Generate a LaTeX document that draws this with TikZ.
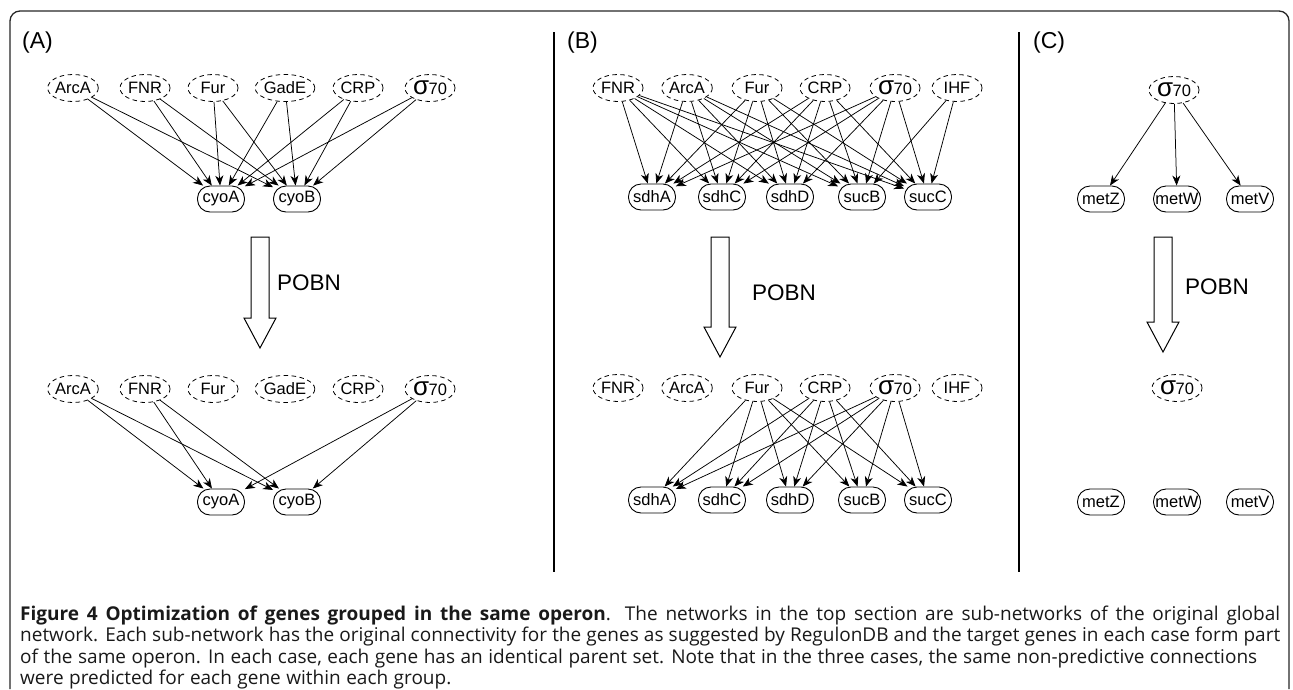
\documentclass[tikz,border=0pt]{standalone}
\usepackage{fontspec}
\setmainfont{Liberation Sans}
\newfontfamily\capfont{Open Sans}
\usetikzlibrary{shapes.geometric,arrows.meta}
\newcommand{\capsetup}{\capfont\fontsize{19}{21.5}\selectfont\spaceskip=5.5pt plus 30pt minus 1.5pt\relax}
\newcommand{\capbox}[2]{\hbox to #1{\capsetup #2}}
\newcommand{\capnat}[1]{\hbox{\capsetup #1}}
\tikzset{
  reg/.style={ellipse, draw, dashed, dash pattern=on 4.5pt off 3.5pt, line width=0.8pt, minimum width=50pt, minimum height=27pt, inner sep=0pt, font=\fontsize{16.5}{17}\selectfont},
  gene/.style={rectangle, rounded corners=12.5pt, draw, line width=0.9pt, minimum width=47pt, minimum height=26pt, inner sep=1.5pt, font=\fontsize{16.5}{17}\selectfont},
  edge/.style={-{Stealth[length=10pt,width=8pt,inset=3pt]}, line width=0.75pt},
  panellabel/.style={anchor=west, font=\fontsize{23}{25}\selectfont, inner sep=0pt},
  pobn/.style={anchor=west, font=\fontsize{22.5}{24}\selectfont, inner sep=0pt},
  divider/.style={line width=2pt},
  hollow/.style={draw, line width=1pt, fill=white},
  capline/.style={anchor=base west, inner sep=0pt, text=black!90},
}
\newcommand{\sig}{{\fontsize{26}{26}\selectfont σ}\kern-0.5pt{\fontsize{16.5}{17}\selectfont 70}}
\newcommand{\hollowarrow}[4]{% x, ytop, ybase of head, ytip
  \draw[hollow] (#1-9,#2) -- (#1+9,#2) -- (#1+9,#3) -- (#1+16,#3) -- (#1,#4) -- (#1-16,#3) -- (#1-9,#3) -- cycle;}
\begin{document}
\begin{tikzpicture}[x=1pt,y=-1pt]
\useasboundingbox (0,0) rectangle (1293,689);
% frame
\draw[line width=1.3pt, rounded corners=10pt, draw=black!85] (10,689) -- (10,11) -- (1289,11) -- (1289,689);
% dividers
\draw[divider] (554,32) -- (554,572);
\draw[divider] (1019,32) -- (1019,572);
% panel labels
\node[panellabel] (labA) at (22,43) {(A)};
\node[panellabel] (labB) at (567,43) {(B)};
\node[panellabel] (labC) at (1033,43) {(C)};

% ---------- Panel A top ----------
\foreach \n/\t/\x in {aArcA/ArcA/73, aFNR/FNR/145, aFur/Fur/213, aGadE/GadE/285, aCRP/CRP/358, aS/\sig/430}
  \node[reg] (\n) at (\x,88) {\t};
\node[gene] (acyoA) at (221,199) {cyoA};
\node[gene] (acyoB) at (297,199) {cyoB};
\foreach \r in {aArcA,aFNR,aFur,aGadE,aCRP,aS}
  \foreach \g in {acyoA,acyoB}
    \draw[edge] (\r) -- (\g);
% ---------- Panel A bottom ----------
\foreach \n/\t/\x in {bArcA/ArcA/73, bFNR/FNR/145, bFur/Fur/213, bGadE/GadE/285, bCRP/CRP/358, bS/\sig/430}
  \node[reg] (\n) at (\x,389) {\t};
\node[gene] (bcyoA) at (221,502) {cyoA};
\node[gene] (bcyoB) at (297,502) {cyoB};
\foreach \r in {bArcA,bFNR,bS}
  \foreach \g in {bcyoA,bcyoB}
    \draw[edge] (\r) -- (\g);
\hollowarrow{260}{237}{318}{348}
\node[pobn] (pobnA) at (277,283) {POBN};

% ---------- Panel B top ----------
\foreach \n/\t/\x in {cFNR/FNR/618, cArcA/ArcA/687, cFur/Fur/757, cCRP/CRP/825, cS/\sig/895, cIHF/IHF/957}
  \node[reg] (\n) at (\x,88) {\t};
\foreach \n/\t/\x in {csdhA/sdhA/652, csdhC/sdhC/722, csdhD/sdhD/790, csucB/sucB/862, csucC/sucC/928}
  \node[gene] (\n) at (\x,197) {\t};
\foreach \r in {cFNR,cArcA,cFur,cCRP,cS}
  \foreach \g in {csdhA,csdhC,csdhD,csucB,csucC}
    \draw[edge] (\r) -- (\g);
\draw[edge] (cIHF) -- (csucB);
\draw[edge] (cIHF) -- (csucC);
% ---------- Panel B bottom ----------
\foreach \n/\t/\x in {dFNR/FNR/618, dArcA/ArcA/687, dFur/Fur/757, dCRP/CRP/825, dS/\sig/895, dIHF/IHF/957}
  \node[reg] (\n) at (\x,388) {\t};
\foreach \n/\t/\x in {dsdhA/sdhA/652, dsdhC/sdhC/722, dsdhD/sdhD/790, dsucB/sucB/862, dsucC/sucC/928}
  \node[gene] (\n) at (\x,500) {\t};
\foreach \r in {dFur,dCRP,dS}
  \foreach \g in {dsdhA,dsdhC,dsdhD,dsucB,dsucC}
    \draw[edge] (\r) -- (\g);
\hollowarrow{720}{237}{327}{357}
\node[pobn] (pobnB) at (752,293) {POBN};

% ---------- Panel C ----------
\node[reg] (eS) at (1174,90) {\sig};
\node[gene] (emetZ) at (1101,199) {metZ};
\node[gene] (emetW) at (1177,199) {metW};
\node[gene] (emetV) at (1250,199) {metV};
\foreach \g in {emetZ,emetW,emetV}
  \draw[edge] (eS) -- (\g);
\node[reg] (fS) at (1177,388) {\sig};
\node[gene] (fmetZ) at (1101,502) {metZ};
\node[gene] (fmetW) at (1177,502) {metW};
\node[gene] (fmetV) at (1250,502) {metV};
\hollowarrow{1163}{237}{322}{352}
\node[pobn] (pobnC) at (1185,287) {POBN};

% ---------- Caption ----------
\node[capline] (cap1) at (20,620) {\capbox{1260pt}{\textbf{Figure 4 Optimization of genes grouped in the same operon}. The networks in the top section are sub-networks of the original global}};
\node[capline] (cap2) at (20,641.5) {\capbox{1260pt}{network. Each sub-network has the original connectivity for the genes as suggested by RegulonDB and the target genes in each case form part}};
\node[capline] (cap3) at (20,663) {\capnat{of the same operon. In each case, each gene has an identical parent set. Note that in the three cases, the same non-predictive connections}};
\node[capline] (cap4) at (20,684) {\capnat{were predicted for each gene within each group.}};
\end{tikzpicture}
\end{document}
